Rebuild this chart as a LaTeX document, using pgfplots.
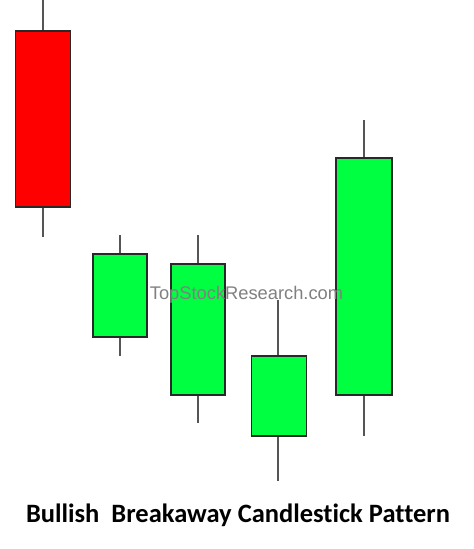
\documentclass[border=0pt]{standalone}
\usepackage{fontspec}
\setmainfont{Liberation Sans}
\newfontfamily\titlefont[Ligatures=NoCommon]{Carlito}
\usepackage{pgfplots}
\pgfplotsset{compat=1.18}
\definecolor{candlegreen}{RGB}{0,255,64}
\definecolor{edge}{RGB}{40,40,40}
\definecolor{wick}{RGB}{85,85,85}
\begin{document}
\begin{tikzpicture}
\begin{axis}[
  scale only axis, width=474pt, height=549pt,
  xmin=0, xmax=474, ymin=0, ymax=54.9,
  hide axis, clip=true,
  wickline/.style={draw=wick, line width=1.5pt, mark=none},
  body/.style={draw=edge, line width=1.2pt, mark=none, fill=#1},
]
% wicks (low -> high)
\addplot[wickline] coordinates {(43,31.2) (43,56)};
\addplot[wickline] coordinates {(120,19.3) (120,31.4)};
\addplot[wickline] coordinates {(198,12.6) (198,31.4)};
\addplot[wickline] coordinates {(278,6.8) (278,24.9)};
\addplot[wickline] coordinates {(364,11.3) (364,42.9)};
% bodies (open/close)
\addplot[body=red] coordinates {(15.7,34.2) (70.3,34.2) (70.3,51.8) (15.7,51.8)} -- cycle;
\addplot[body=candlegreen] coordinates {(93,21.2) (147,21.2) (147,29.5) (93,29.5)} -- cycle;
\addplot[body=candlegreen] coordinates {(171,15.4) (225,15.4) (225,28.5) (171,28.5)} -- cycle;
\addplot[body=candlegreen] coordinates {(251.5,11.3) (306.5,11.3) (306.5,19.3) (251.5,19.3)} -- cycle;
\addplot[body=candlegreen] coordinates {(336,15.4) (392,15.4) (392,39.1) (336,39.1)} -- cycle;

\node[text=black!50, font=\fontsize{18.3}{20}\selectfont, anchor=base] at (axis cs:246.5,24.9) {TopStockResearch.com};
\node[font=\titlefont\bfseries\fontsize{26.5}{28}\selectfont, anchor=base] at (axis cs:238,2.6) {Bullish\ \ Breakaway Candlestick Pattern};
\end{axis}
\pgfresetboundingbox
\path (current axis.south west) rectangle (current axis.north east);
\end{tikzpicture}
\end{document}
